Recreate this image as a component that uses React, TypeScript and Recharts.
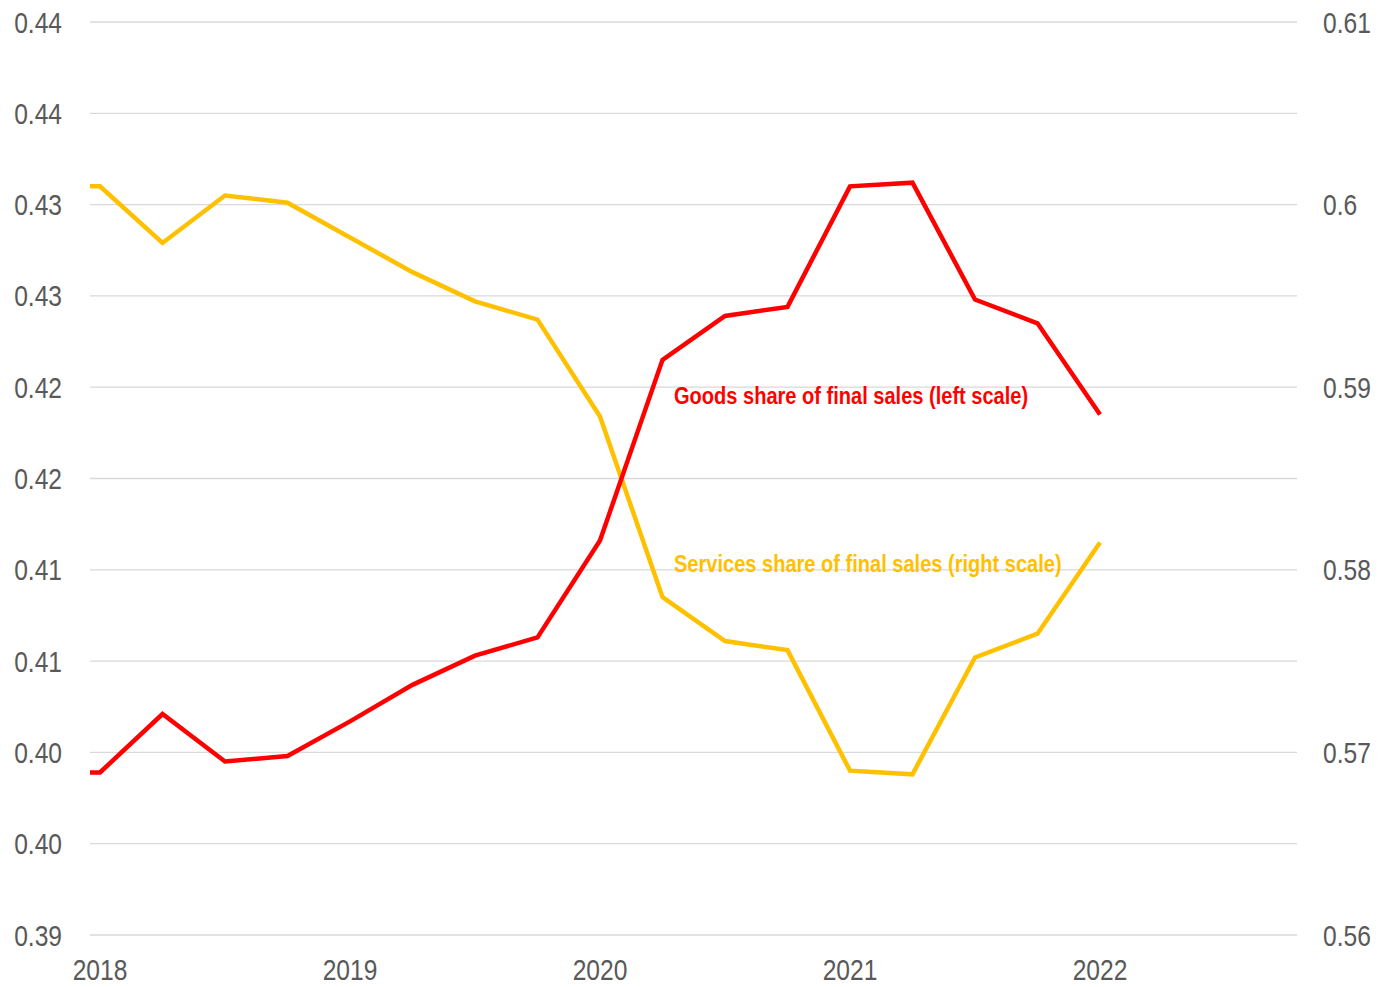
import { LineChart, Line, XAxis, YAxis, CartesianGrid } from "recharts";

// quarterly observations (first point sits at the left edge of the plot)
const quarters = [
  2017.96, 2018, 2018.25, 2018.5, 2018.75, 2019, 2019.25, 2019.5, 2019.75,
  2020, 2020.25, 2020.5, 2020.75, 2021, 2021.25, 2021.5, 2021.75, 2022,
];
const goodsShare = [
  0.3989, 0.3989, 0.4021, 0.3995, 0.3998, 0.4017, 0.4037, 0.4053, 0.4063,
  0.4116, 0.4215, 0.4239, 0.4244, 0.4310, 0.4312, 0.4248, 0.4235, 0.4185,
];
const servicesShare = [
  0.6010, 0.6010, 0.5979, 0.6005, 0.6001, 0.5982, 0.5963, 0.5947, 0.5937,
  0.5884, 0.5785, 0.5761, 0.5756, 0.5690, 0.5688, 0.5752, 0.5765, 0.5815,
];

const yearTicks = [2018, 2019, 2020, 2021, 2022];
const leftTicks = [0.39, 0.395, 0.4, 0.405, 0.41, 0.415, 0.42, 0.425, 0.43, 0.435, 0.44];
const leftTickLabels = ["0.39", "0.40", "0.40", "0.41", "0.41", "0.42", "0.42", "0.43", "0.43", "0.44", "0.44"];
const rightTicks = [0.56, 0.57, 0.58, 0.59, 0.6, 0.61];
const rightTickLabels = ["0.56", "0.57", "0.58", "0.59", "0.6", "0.61"];

const data = quarters.map((q, i) => ({
  q,
  goods: goodsShare[i],
  services: servicesShare[i],
}));

// no narrow font installed, so squeeze Liberation Sans horizontally
const FONT = '"Liberation Sans", Arial, sans-serif';
const SQUEEZE = 0.82;

function NarrowTick(props: any) {
  const { x, y, payload, index, anchor, dy, labels } = props;
  const label = labels ? labels[index] : String(payload.value);
  return (
    <g transform={`translate(${x},${y}) scale(${SQUEEZE},1)`}>
      <text x={0} y={0} dy={dy} textAnchor={anchor} fill="#595959" fontSize={30} fontFamily={FONT}>
        {label}
      </text>
    </g>
  );
}

const noteStyle = {
  position: "absolute" as const,
  left: 674,
  fontFamily: FONT,
  fontWeight: "bold" as const,
  fontSize: 24,
  whiteSpace: "nowrap" as const,
  transform: "scaleX(0.835)",
  transformOrigin: "left center",
};

export default function App() {
  return (
    <div style={{ position: "absolute", left: 0, top: 0, width: 1379, height: 987, background: "#fff" }}>
      <LineChart width={1379} height={987} data={data} margin={{ top: 22, right: 0, bottom: 0, left: 0 }}>
        <CartesianGrid yAxisId="left" vertical={false} stroke="#d9d9d9" strokeWidth={1.3} />
        <XAxis
          dataKey="q"
          type="number"
          domain={[2017.96, 2022.788]}
          ticks={yearTicks}
          axisLine={false}
          tickLine={false}
          tickSize={0}
          tickMargin={24}
          height={52}
          tick={<NarrowTick anchor="middle" dy="0.71em" />}
          allowDataOverflow
        />
        <YAxis
          yAxisId="left"
          orientation="left"
          domain={[0.39, 0.44]}
          ticks={leftTicks}
          axisLine={false}
          tickLine={false}
          tickSize={0}
          tickMargin={28}
          width={90}
          tick={<NarrowTick anchor="end" dy="0.35em" labels={leftTickLabels} />}
          allowDataOverflow
        />
        <YAxis
          yAxisId="right"
          orientation="right"
          domain={[0.56, 0.61]}
          ticks={rightTicks}
          axisLine={false}
          tickLine={false}
          tickSize={0}
          tickMargin={26}
          width={82}
          tick={<NarrowTick anchor="start" dy="0.35em" labels={rightTickLabels} />}
          allowDataOverflow
        />
        <Line
          yAxisId="right"
          dataKey="services"
          type="linear"
          stroke="#FFC000"
          strokeWidth={4.5}
          dot={false}
          isAnimationActive={false}
        />
        <Line
          yAxisId="left"
          dataKey="goods"
          type="linear"
          stroke="#FF0000"
          strokeWidth={4.5}
          dot={false}
          isAnimationActive={false}
        />
      </LineChart>
      <div style={{ ...noteStyle, top: 382, color: "#FF0000" }}>Goods share of final sales (left scale)</div>
      <div style={{ ...noteStyle, top: 550, color: "#FFC000" }}>Services share of final sales (right scale)</div>
    </div>
  );
}
